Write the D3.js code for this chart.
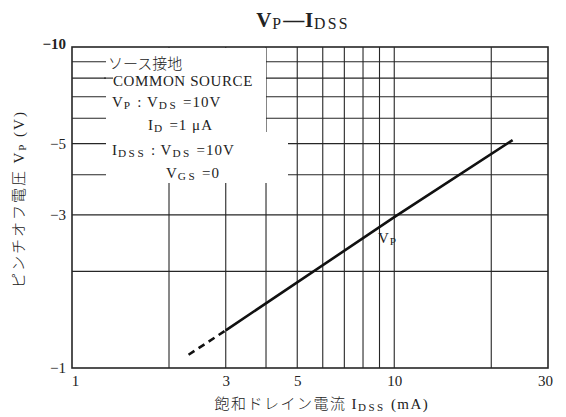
<!DOCTYPE html>
<html><head><meta charset="utf-8">
<script src="https://cdn.jsdelivr.net/npm/d3@7"></script>
<style>
html,body{margin:0;padding:0;background:#fff;}
text{font-family:"Liberation Serif","DejaVu Serif","Noto Sans CJK JP",serif;fill:#222;}
</style></head>
<body><svg id="c" width="566" height="417"></svg>
<script>
// data
const xTicks = [1, 3, 5, 10, 30];
const yTicks = [-1, -3, -5, -10];
const xGrid = [2, 3, 4, 5, 6, 7, 8, 9, 10, 20];
const yGrid = [-2, -3, -4, -5, -6, -7, -8, -9];
const dashedIdss = [2.3, 3];
const dashedVp = [-1.1, -1.31];
const solidIdss = [3, 10, 23.3];
const solidVp = [-1.31, -2.95, -5.13];

const svg = d3.select("#c");
const L = 72, R = 548, T = 47, B = 368;
const x = d3.scaleLog().domain([1, 30]).range([L, R]);
const y = d3.scaleLog().domain([-1, -10]).range([B, T]);
const ink = "#262626";

// grid
svg.append("g").selectAll("line").data(xGrid).join("line")
  .attr("x1", d => x(d)).attr("x2", d => x(d)).attr("y1", T).attr("y2", B)
  .attr("stroke", ink).attr("stroke-width", 1.1);
svg.append("g").selectAll("line").data(yGrid).join("line")
  .attr("x1", L).attr("x2", R).attr("y1", d => y(d)).attr("y2", d => y(d))
  .attr("stroke", ink).attr("stroke-width", 1.1);

// legend mask
svg.append("rect").attr("x", 106).attr("y", T + 1).attr("width", 160).attr("height", 90).attr("fill", "#fff");
svg.append("rect").attr("x", 106).attr("y", 132).attr("width", 182).attr("height", 51).attr("fill", "#fff");
svg.append("line").attr("x1", 104).attr("x2", 113).attr("y1", y(-8)).attr("y2", y(-8)).attr("stroke", ink).attr("stroke-width", 1.1);

// border
svg.append("rect").attr("x", L).attr("y", T).attr("width", R - L).attr("height", B - T)
  .attr("fill", "none").attr("stroke", ink).attr("stroke-width", 1.6);

// axes tick labels
const xAxis = d3.axisBottom(x).tickValues(xTicks).tickFormat(d3.format("d")).tickSize(0).tickPadding(7);
const gx = svg.append("g").attr("transform", `translate(0,${B})`).call(xAxis);
gx.select(".domain").remove();
gx.selectAll("text").attr("font-size", 15).style("font-family", "Liberation Serif").attr("fill", ink);
gx.selectAll(".tick").filter(d => d === 1).select("text").attr("dx", 3);
gx.selectAll(".tick").filter(d => d === 30).select("text").attr("dx", -3);

const yAxis = d3.axisLeft(y).tickValues(yTicks).tickFormat(d => "−" + Math.abs(d)).tickSize(0).tickPadding(6);
const gy = svg.append("g").attr("transform", `translate(${L},0)`).call(yAxis);
gy.select(".domain").remove();
gy.selectAll("text").attr("font-size", 15).style("font-family", "Liberation Serif").attr("fill", ink);
gy.selectAll(".tick").filter(d => d === -10).select("text").attr("dy", "0.1em").attr("font-weight", "bold");

// curve
const line = d3.line().x(d => x(d[0])).y(d => y(d[1]));
svg.append("path").datum(d3.zip(dashedIdss, dashedVp)).attr("d", line)
  .attr("fill", "none").attr("stroke", "#111").attr("stroke-width", 2.6).attr("stroke-dasharray", "7,5");
svg.append("path").datum(d3.zip(solidIdss, solidVp)).attr("d", line)
  .attr("fill", "none").attr("stroke", "#111").attr("stroke-width", 2.6);

// rich text helper
function rich(g, px, py, parts, size, attrs, ls, subW) {
  const t = g.append("text").attr("x", px).attr("y", py).attr("font-size", size)
    .attr("letter-spacing", ls || 0);
  if (attrs) Object.entries(attrs).forEach(([k, v]) => t.attr(k, v));
  parts.forEach(p => {
    const s = t.append("tspan").text(p[0]);
    if (p[1] === "sub") {
      s.attr("font-size", size * 0.75).attr("dy", 1.5).attr("letter-spacing", (ls || 0) + 1.5);
      if (subW) s.attr("font-weight", subW);
    }
    else if (p[1] === "back") s.attr("dy", -1.5);
  });
  return t;
}

// title
rich(svg, 303, 27, [["V"], ["P", "sub"], ["—I", "back"], ["DSS", "sub"]], 21,
  {"text-anchor": "middle", "font-weight": "bold"}, 0.8, "normal");

// legend
const lg = svg.append("g");
lg.append("text").attr("x", 108).attr("y", 69).attr("font-size", 15)
  .style("font-family", "Noto Sans CJK JP").attr("font-weight", 300).text("ソース接地");
rich(lg, 113, 86, [["COMMON SOURCE"]], 15, null, 0.6);
rich(lg, 112, 107, [["V"], ["P", "sub"], [" : V", "back"], ["DS", "sub"], [" =10V", "back"]], 15, null, 1);
rich(lg, 148, 130, [["I"], ["D", "sub"], [" =1 μA", "back"]], 15, null, 1);
rich(lg, 112, 155, [["I"], ["DSS", "sub"], [" : V", "back"], ["DS", "sub"], [" =10V", "back"]], 15, null, 1);
rich(lg, 166, 178, [["V"], ["GS", "sub"], [" =0", "back"]], 15, null, 1);

// curve label
rich(svg, 378, 243, [["V"], ["P", "sub"]], 15, null, 1);

// axis titles
const xt = svg.append("text").attr("x", 322).attr("y", 409).attr("font-size", 15)
  .attr("text-anchor", "middle").attr("letter-spacing", 1.5);
xt.append("tspan").style("font-family", "Noto Sans CJK JP").attr("font-weight", 300).text("飽和ドレイン電流 ");
xt.append("tspan").text("I");
xt.append("tspan").attr("font-size", 11).attr("dy", 1.5).attr("letter-spacing", 2.5).text("DSS");
xt.append("tspan").attr("dy", -1.5).text(" (mA)");

const yt = svg.append("text").attr("transform", "translate(24,199) rotate(-90)")
  .attr("font-size", 15).attr("text-anchor", "middle").attr("letter-spacing", 2);
yt.append("tspan").style("font-family", "Noto Sans CJK JP").attr("font-weight", 300).text("ピンチオフ電圧 ");
yt.append("tspan").text("V");
yt.append("tspan").attr("font-size", 11).attr("dy", 1.5).text("P");
yt.append("tspan").attr("dy", -1.5).text(" (V)");
</script></body></html>
